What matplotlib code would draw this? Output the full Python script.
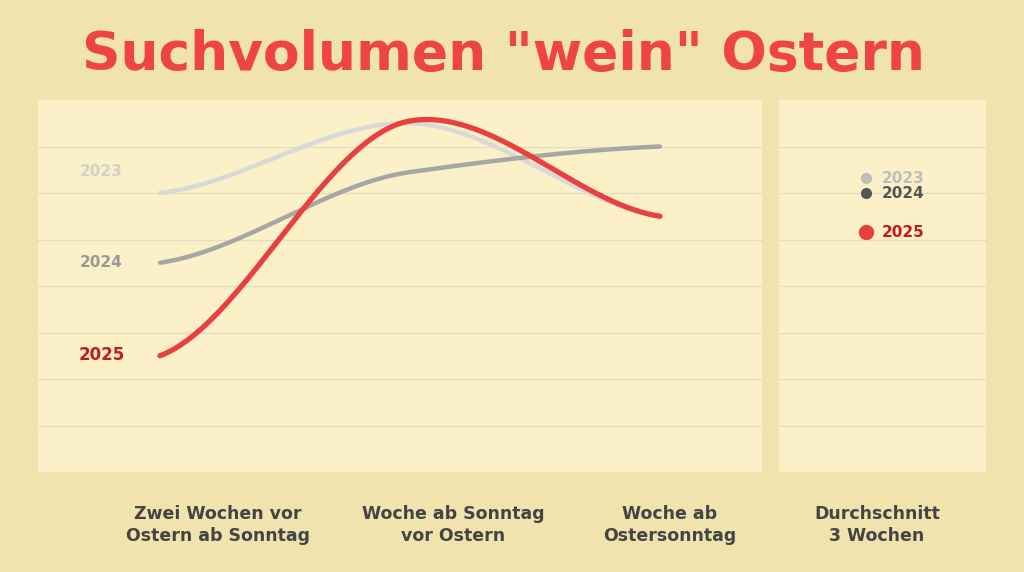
import numpy as np
import matplotlib
matplotlib.use("Agg")
import matplotlib.pyplot as plt

categories = ["Zwei Wochen vor\nOstern ab Sonntag", "Woche ab Sonntag\nvor Ostern", "Woche ab\nOstersonntag"]
avg_label = "Durchschnitt\n3 Wochen"
years = ["2023", "2024", "2025"]
values_2023 = [6.0, 7.5, 5.5]
values_2024 = [4.5, 6.45, 7.0]
values_2025 = [2.5, 7.55, 5.5]
series = {"2023": values_2023, "2024": values_2024, "2025": values_2025}
colors = {"2023": "#d9d9d6", "2024": "#a6a6a4", "2025": "#e8403f"}

def smooth(xs, ys, n=200):
    xs = np.asarray(xs, float); ys = np.asarray(ys, float)
    m = np.array([0.4*(ys[1]-ys[0]), 0.3*(ys[2]-ys[0]), 0.4*(ys[2]-ys[1])])
    ox, oy = [], []
    for i in range(2):
        t = np.linspace(0, 1, n)
        h00 = 2*t**3 - 3*t**2 + 1; h10 = t**3 - 2*t**2 + t
        h01 = -2*t**3 + 3*t**2; h11 = t**3 - t**2
        ox.append(xs[i] + t*(xs[i+1]-xs[i]))
        oy.append(h00*ys[i] + h10*m[i] + h01*ys[i+1] + h11*m[i+1])
    return np.concatenate(ox), np.concatenate(oy)

bg = "#f0e3ae"
panel = "#fcf0c9"
fig = plt.figure(figsize=(10.24, 5.72), dpi=100, facecolor=bg)

ax = fig.add_axes([38/1024, 100/572, 724/1024, 372/572])
ax2 = fig.add_axes([779/1024, 100/572, 207/1024, 372/572])
for a in (ax, ax2):
    a.set_facecolor(panel)
    a.set_ylim(0, 8)
    for s in a.spines.values():
        s.set_visible(False)
    a.set_xticks([]); a.set_yticks([])
    for g in range(1, 8):
        a.axhline(g, color="#e6dcc0", lw=0.9, zorder=0)
ax.set_xlim(-0.488, 2.408)
ax2.set_xlim(0, 1)

x = np.arange(3)
for yr in years:
    sx, sy = smooth(x, series[yr])
    ax.plot(sx, sy, color=colors[yr], lw=3.2 if yr != "2025" else 3.8, solid_capstyle="round", zorder=3 if yr == "2025" else 2)

ax.text(-0.15, 6.47, "2023", color="#d0d0cc", fontsize=11, fontweight="bold", ha="right", va="center")
ax.text(-0.15, 4.5, "2024", color="#999999", fontsize=11, fontweight="bold", ha="right", va="center")
ax.text(-0.14, 2.52, "2025", color="#c41a1a", fontsize=12, fontweight="bold", ha="right", va="center")

for i, c in enumerate(categories):
    fig.text([218, 453, 670][i]/1024, 1 - 525/572, c, ha="center", va="center", fontsize=12.5, fontweight="bold", color="#444444", linespacing=1.35)
fig.text(877/1024, 1 - 525/572, avg_label, ha="center", va="center", fontsize=12.5, fontweight="bold", color="#444444", linespacing=1.35)

leg = [("2023", "#bdbdbd", 178, 7, "#bdbdbd"), ("2024", "#555555", 193, 7, "#555555"), ("2025", "#e8403f", 232, 10, "#c41a1a")]
for lab, col, py, ms, tc in leg:
    yv = (472 - py) / 372 * 8
    ax2.plot([(866-779)/207], [yv], "o", color=col, ms=ms)
    ax2.text((882-779)/207, yv, lab, color=tc, fontsize=11, fontweight="bold", va="center")

fig.text(503/1024, 1 - 55/572, 'Suchvolumen "wein" Ostern', ha="center", va="center", fontsize=38.5, fontweight="bold", color="#ee4444")

fig.savefig("out.png", dpi=100, facecolor=bg)
